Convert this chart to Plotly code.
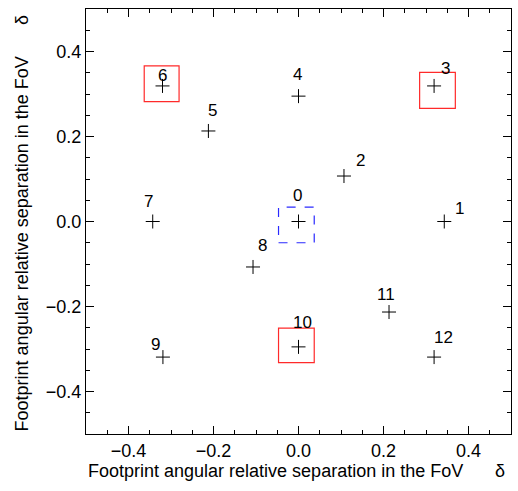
import plotly.graph_objects as go

# Footprint positions
ids = ["0", "1", "2", "3", "4", "5", "6", "7", "8", "9", "10", "11", "12"]
x_vals = [0.0, 0.343, 0.107, 0.319, 0.0, -0.212, -0.320, -0.343, -0.107, -0.319, 0.0, 0.213, 0.319]
y_vals = [0.0, 0.0, 0.107, 0.319, 0.295, 0.213, 0.319, 0.0, -0.107, -0.319, -0.295, -0.213, -0.319]

# label offsets (pixels) relative to marker
lab_dx = [-1, 15, 17, 11, -1, 4, 0, -4, 9, -7, 4, -3, 9]
lab_dy = [26, 13, 16, 17, 22, 20, 10, 20, 21, 13, 24, 18, 20]

# selection boxes (data coords)
box_x0 = [-0.363, 0.285, -0.047, -0.047]
box_x1 = [-0.281, 0.369, 0.037, 0.037]
box_y0 = [0.282, 0.266, -0.332, -0.050]
box_y1 = [0.366, 0.351, -0.251, 0.034]
box_col = ["#ff2a2a", "#ff2a2a", "#ff2a2a", "#2a2aff"]
box_dash = ["solid", "solid", "solid", "dash"]

x_title = "Footprint angular relative separation in the FoV"
y_title = "Footprint angular relative separation in the FoV"
delta = "δ"

FONT = "Liberation Sans, Arial, sans-serif"

fig = go.Figure()
fig.add_trace(go.Scatter(
    x=x_vals, y=y_vals, mode="markers",
    marker=dict(symbol="cross-thin", size=10, line=dict(color="black", width=1)),
    showlegend=False, hoverinfo="skip"))

for i, t in enumerate(ids):
    fig.add_annotation(x=x_vals[i], y=y_vals[i], text=t, showarrow=False,
                       xshift=lab_dx[i], yshift=lab_dy[i],
                       font=dict(family=FONT, size=17, color="black"))

for i in range(len(box_x0)):
    fig.add_shape(type="rect", x0=box_x0[i], x1=box_x1[i], y0=box_y0[i], y1=box_y1[i],
                  line=dict(color=box_col[i], width=1.2, dash=box_dash[i]))

axis_common = dict(
    showgrid=False, zeroline=False, showline=True, linecolor="black", linewidth=1.2,
    mirror="ticks", ticks="inside", ticklen=8, tickwidth=1, tickcolor="black",
    dtick=0.2, tickformat=".1f",
    minor=dict(dtick=0.05, ticks="inside", ticklen=4, tickcolor="black", tickwidth=1),
    tickfont=dict(family=FONT, size=18, color="black"),
)
fig.update_xaxes(range=[-0.5, 0.5], tick0=0, **axis_common)
fig.update_yaxes(range=[-0.5, 0.5], tick0=0, **axis_common)

fig.add_annotation(xref="paper", yref="paper", x=0.447, y=-0.087, yanchor="middle",
                   text=x_title, showarrow=False, font=dict(family=FONT, size=18, color="black"))
fig.add_annotation(xref="paper", yref="paper", x=0.991, y=-0.087, yanchor="middle",
                   text=delta, showarrow=False, font=dict(family=FONT, size=18, color="black"))
fig.add_annotation(xref="paper", yref="paper", x=-0.151, xanchor="center", y=0.448,
                   text=y_title, textangle=-90, showarrow=False,
                   font=dict(family=FONT, size=18, color="black"))
fig.add_annotation(xref="paper", yref="paper", x=-0.151, xanchor="center", y=0.99,
                   text=delta, textangle=-90, showarrow=False,
                   font=dict(family=FONT, size=18, color="black"))

fig.update_layout(
    width=518, height=491,
    margin=dict(l=86, r=7, t=9, b=57),
    plot_bgcolor="white", paper_bgcolor="white",
)

fig.write_html("out.html")
